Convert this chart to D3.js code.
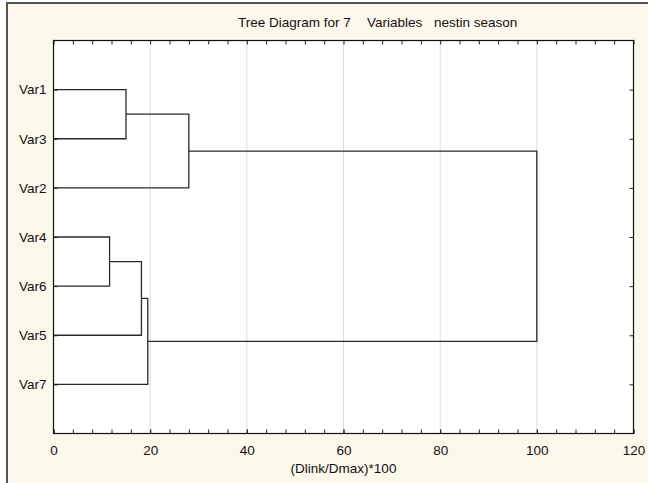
<!DOCTYPE html>
<html lang="en">
<head>
  <meta charset="UTF-8">
  <title>Tree Diagram</title>
  <style>
    body { margin: 0; background: #fff; }
    svg text { font-family: Arial, "Liberation Sans", sans-serif; fill: #111; }
  </style>
</head>
<body>
  <svg id="tree"></svg>
  <script src="https://cdn.jsdelivr.net/npm/d3@7/dist/d3.min.js"></script>
  <script>
    // leaf order, top to bottom
    var leaves = ['Var1', 'Var3', 'Var2', 'Var4', 'Var6', 'Var5', 'Var7'];
    // joins: which two nodes merge, and at what linkage distance
    var joinA = ['Var1', 'C1', 'Var4', 'C3', 'C4', 'C2'];
    var joinB = ['Var3', 'Var2', 'Var6', 'Var5', 'Var7', 'C5'];
    var joinDist = [15.0, 28.0, 11.6, 18.2, 19.5, 100];
    var xTicks = [0, 20, 40, 60, 80, 100, 120];

    var W = 648, H = 483;
    // note: "top" is reserved on window, so use plot* names
    var plotL = 53.5, plotR = 633.5, plotT = 40.5, plotB = 433.5;
    var fs = 13.5;

    var svg = d3.select('#tree').attr('width', W).attr('height', H);

    // outer frame
    svg.append('rect')
      .attr('x', 7).attr('y', 3)
      .attr('width', W + 10).attr('height', H + 10)
      .attr('fill', '#fdf8ec')
      .attr('stroke', '#555')
      .attr('stroke-width', 2);

    svg.append('rect')
      .attr('x', plotL).attr('y', plotT)
      .attr('width', plotR - plotL).attr('height', plotB - plotT)
      .attr('fill', '#fff');

    var x = d3.scaleLinear().domain([0, 120]).range([plotL, plotR]);
    var y = d3.scaleLinear().domain([0, leaves.length + 1]).range([plotT, plotB]);

    // grid
    svg.append('g').selectAll('line')
      .data(xTicks.slice(1, -1))
      .enter().append('line')
      .attr('x1', d => x(d)).attr('x2', d => x(d))
      .attr('y1', plotT).attr('y2', plotB)
      .attr('stroke', '#dcdcdc');

    // node positions
    var pos = {};
    leaves.forEach((v, i) => { pos[v] = { x: 0, y: i + 1 }; });
    var links = [];
    joinA.forEach((a, i) => {
      var b = joinB[i], d = joinDist[i];
      pos['C' + (i + 1)] = { x: d, y: (pos[a].y + pos[b].y) / 2 };
      links.push({ a: pos[a], b: pos[b], d: d });
    });

    svg.append('g').selectAll('path')
      .data(links)
      .enter().append('path')
      .attr('d', l => 'M' + x(l.a.x) + ',' + y(l.a.y) + 'H' + x(l.d) + 'V' + y(l.b.y) + 'H' + x(l.b.x))
      .attr('fill', 'none')
      .attr('stroke', '#2a2a2a')
      .attr('stroke-width', 1.3);

    // axes
    var minor = d3.range(0, 121, 4);
    function styleAxis(g) {
      g.select('.domain').remove();
      g.selectAll('line').attr('stroke', '#222');
      g.selectAll('text').attr('font-size', fs).attr('font-family', 'Arial, "Liberation Sans", sans-serif').attr('fill', '#111');
    }
    svg.append('g').attr('transform', 'translate(0,' + plotB + ')')
      .call(d3.axisBottom(x).tickValues(minor).tickSize(-4).tickFormat(''))
      .call(styleAxis);
    svg.append('g').attr('transform', 'translate(0,' + plotB + ')')
      .call(d3.axisBottom(x).tickValues(xTicks).tickSize(-4).tickPadding(11.5).tickFormat(d3.format('d')))
      .call(styleAxis);
    svg.append('g').attr('transform', 'translate(0,' + plotT + ')')
      .call(d3.axisTop(x).tickValues(minor).tickSize(-4).tickFormat(''))
      .call(styleAxis);
    svg.append('g').attr('transform', 'translate(' + plotL + ',0)')
      .call(d3.axisLeft(y).tickValues(d3.range(1, leaves.length + 1)).tickSize(-4).tickPadding(7).tickFormat(d => leaves[d - 1]))
      .call(styleAxis);
    svg.append('g').attr('transform', 'translate(' + plotR + ',0)')
      .call(d3.axisRight(y).tickValues(d3.range(1, leaves.length + 1)).tickSize(-4).tickFormat(''))
      .call(styleAxis);

    // plot border
    svg.append('rect')
      .attr('x', plotL).attr('y', plotT)
      .attr('width', plotR - plotL).attr('height', plotB - plotT)
      .attr('fill', 'none')
      .attr('stroke', '#111')
      .attr('stroke-width', 1.2);

    // title
    var titleText = svg.append('text').attr('y', 27).attr('font-size', fs);
    titleText.append('tspan').attr('x', 238).text('Tree Diagram for 7');
    titleText.append('tspan').attr('x', 367).text('Variables');
    titleText.append('tspan').attr('x', 434).text('nestin season');

    svg.append('text')
      .attr('x', (plotL + plotR) / 2).attr('y', 473)
      .attr('text-anchor', 'middle')
      .attr('font-size', fs)
      .text('(Dlink/Dmax)*100');
  </script>
</body>
</html>
